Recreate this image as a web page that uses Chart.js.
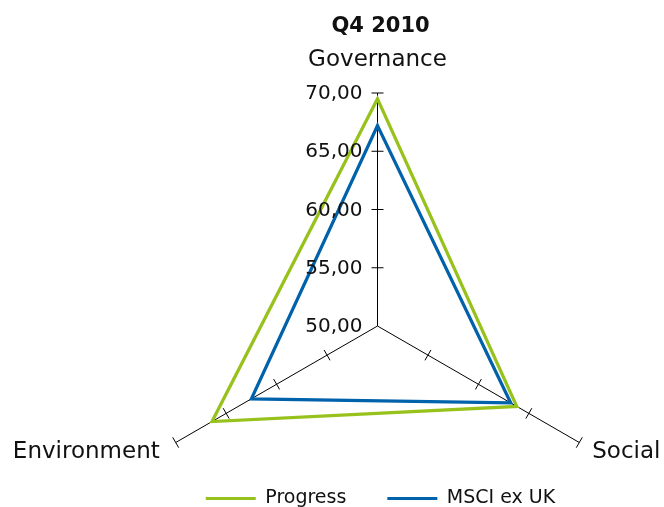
<!DOCTYPE html>
<html>
<head>
<meta charset="utf-8">
<script src="https://cdn.jsdelivr.net/npm/chart.js@4/dist/chart.umd.min.js"></script>
<style>
  html, body { margin: 0; padding: 0; background: #ffffff; overflow: hidden; }
  #wrap { position: relative; width: 664px; height: 507px; }
</style>
</head>
<body>
<div id="wrap"><canvas id="c" width="664" height="507"></canvas></div>
<script>
// Axis categories (clockwise from the top)
const axes = ['Governance', 'Social', 'Environment'];
// Scores per axis
const progress = [69.5, 63.8, 66.4];
const msciExUk = [67.2, 63.2, 62.5];
// Radial scale ticks
const tickValues = [50, 55, 60, 65, 70];
const tickLabels = ['50,00', '55,00', '60,00', '65,00', '70,00'];

const FONT = "'DejaVu Sans', sans-serif";
const TEXT = '#111111';
const GREEN = '#97c21c';
const BLUE = '#0062aa';

// Small cross ticks on every spoke, drawn beneath the series
const spokeTicks = {
  id: 'spokeTicks',
  beforeDatasetsDraw(chart) {
    const s = chart.scales.r;
    const ctx = chart.ctx;
    ctx.save();
    ctx.strokeStyle = '#000';
    ctx.lineWidth = 1;
    for (let i = 0; i < axes.length; i++) {
      const a = s.getIndexAngle(i) - Math.PI / 2;
      const nx = -Math.sin(a), ny = Math.cos(a);
      tickValues.forEach(v => {
        if (v === s.min) return;
        const p = s.getPointPositionForValue(i, v);
        ctx.beginPath();
        ctx.moveTo(p.x - nx * 6, p.y - ny * 6);
        ctx.lineTo(p.x + nx * 6, p.y + ny * 6);
        ctx.stroke();
      });
    }
    ctx.restore();
  }
};

// Tick values and axis names, drawn over the series
const radarText = {
  id: 'radarText',
  afterDatasetsDraw(chart) {
    const s = chart.scales.r;
    const ctx = chart.ctx;
    ctx.save();
    ctx.fillStyle = TEXT;
    ctx.font = `20px ${FONT}`;
    ctx.textAlign = 'right';
    ctx.textBaseline = 'middle';
    tickValues.forEach((v, k) => {
      const p = s.getPointPositionForValue(0, v);
      ctx.fillText(tickLabels[k], p.x - 15, p.y + 1);
    });
    ctx.font = `23px ${FONT}`;
    ctx.textBaseline = 'alphabetic';
    axes.forEach((name, i) => {
      const p = s.getPointPosition(i, s.drawingArea + 15);
      if (Math.abs(p.x - s.xCenter) < 1) {
        ctx.textAlign = 'center';
        ctx.fillText(name, p.x, s.getPointPosition(i, s.drawingArea).y - 27);
      } else {
        ctx.textAlign = p.x > s.xCenter ? 'left' : 'right';
        ctx.fillText(name, p.x + (p.x > s.xCenter ? 0 : -3), p.y + 8);
      }
    });
    ctx.restore();
  }
};

new Chart(document.getElementById('c'), {
  type: 'radar',
  data: {
    labels: axes,
    datasets: [
      {
        label: 'Progress',
        data: progress,
        borderColor: GREEN,
        backgroundColor: GREEN,
        borderWidth: 3.3,
        fill: false,
        pointRadius: 0,
        pointHoverRadius: 0,
        clip: false
      },
      {
        label: 'MSCI ex UK',
        data: msciExUk,
        borderColor: BLUE,
        backgroundColor: BLUE,
        borderWidth: 3.3,
        fill: false,
        pointRadius: 0,
        pointHoverRadius: 0,
        clip: false
      }
    ]
  },
  options: {
    responsive: false,
    animation: false,
    events: [],
    layout: { padding: { left: 97, right: 0, top: 0, bottom: -11 } },
    elements: { line: { tension: 0, borderJoinStyle: 'miter' } },
    scales: {
      r: {
        min: 50,
        max: 70,
        startAngle: 0,
        ticks: { display: false, stepSize: 5 },
        grid: { display: false },
        angleLines: { display: true, color: '#000', lineWidth: 1 },
        pointLabels: { display: false },
        afterFit(scale) {
          scale.xCenter = 377.5;
          scale.yCenter = 326;
          scale.drawingArea = 233;
        }
      }
    },
    plugins: {
      title: {
        display: true,
        text: 'Q4 2010',
        fullSize: false,
        color: TEXT,
        font: { family: FONT, size: 21, weight: 'bold' },
        padding: { top: 14, bottom: 0 }
      },
      legend: {
        display: true,
        position: 'bottom',
        fullSize: false,
        labels: {
          color: TEXT,
          font: { family: FONT, size: 19 },
          boxWidth: 50,
          boxHeight: 3,
          padding: 41,
          generateLabels(chart) {
            return Chart.defaults.plugins.legend.labels.generateLabels(chart)
              .map(item => Object.assign(item, { lineWidth: 0 }));
          }
        }
      },
      tooltip: { enabled: false }
    }
  },
  plugins: [spokeTicks, radarText]
});
</script>
</body>
</html>
